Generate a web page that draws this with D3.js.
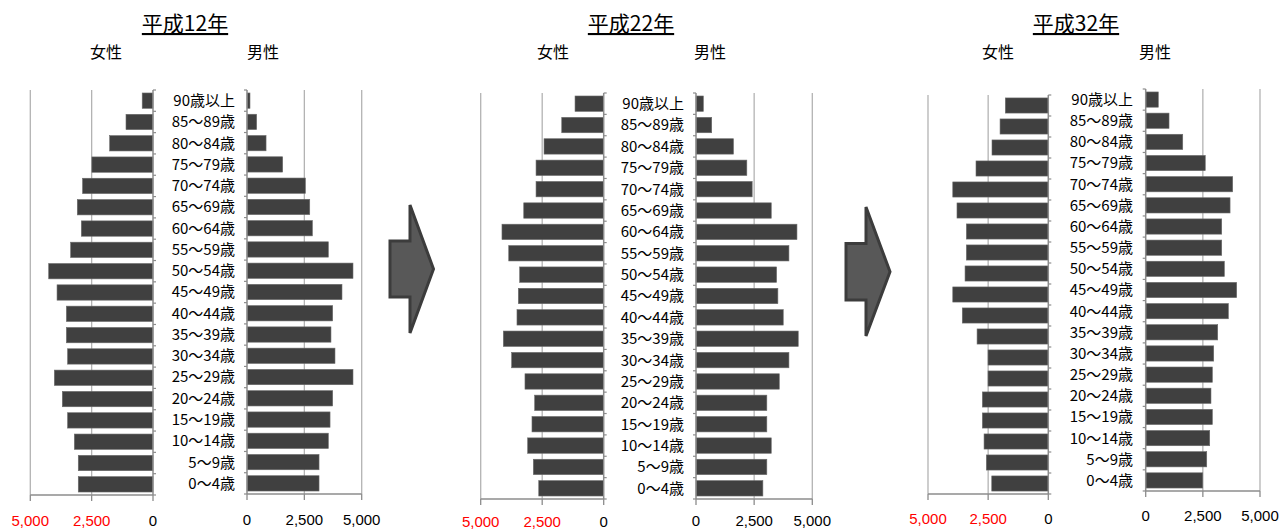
<!DOCTYPE html>
<html><head><meta charset="utf-8">
<script src="https://cdn.jsdelivr.net/npm/d3@7/dist/d3.min.js"></script>
<style>
html,body{margin:0;padding:0;background:#fff;}
svg{display:block;}
text{font-family:"Noto Sans CJK JP","Noto Sans",sans-serif;}
</style></head>
<body>
<script>
// ---- data ----
const ageGroups = ["90歳以上","85〜89歳","80〜84歳","75〜79歳","70〜74歳","65〜69歳","60〜64歳","55〜59歳","50〜54歳","45〜49歳","40〜44歳","35〜39歳","30〜34歳","25〜29歳","20〜24歳","15〜19歳","10〜14歳","5〜9歳","0〜4歳"];
const years = ["平成12年","平成22年","平成32年"];
const femaleH12 = [440,1100,1765,2490,2870,3085,2920,3355,4250,3910,3530,3530,3480,4020,3695,3480,3205,3045,3045];
const maleH12   = [130,420,830,1555,2545,2735,2850,3545,4620,4140,3735,3660,3835,4620,3735,3620,3545,3140,3140];
const femaleH22 = [1165,1705,2425,2750,2750,3250,4135,3860,3415,3470,3525,4080,3740,3200,2805,2915,3090,2860,2640];
const maleH22   = [315,675,1610,2185,2415,3235,4340,3995,3465,3520,3750,4395,3995,3580,3045,3045,3235,3045,2875];
const femaleH32 = [1785,2005,2340,3005,3970,3795,3405,3405,3460,3970,3575,2960,2505,2505,2740,2740,2670,2575,2350];
const maleH32   = [550,1020,1620,2605,3805,3690,3325,3325,3440,3980,3615,3150,2975,2915,2855,2915,2800,2670,2495];
const tickValues = [0,2500,5000];
const tickLabels = ["0","2,500","5,000"];
const femaleLabel = "女性", maleLabel = "男性";

const seriesByYear = [[femaleH12,maleH12],[femaleH22,maleH22],[femaleH32,maleH32]];

// ---- layout ----
const layouts = [
  {title:[185,31], fLab:[106,52], mLab:[263,52], catX:235,
   f:{x0:153,x1:30.3,y0:90,y1:495,tickY:526}, m:{x0:247,x1:361.7,y0:90,y1:494,tickY:525}},
  {title:[631,31], fLab:[553,52], mLab:[710,52], catX:684,
   f:{x0:603.7,x1:480.7,y0:93,y1:499,tickY:527}, m:{x0:696,x1:812.3,y0:93,y1:499,tickY:526}},
  {title:[1076,31], fLab:[998,52], mLab:[1155,52], catX:1133,
   f:{x0:1048.3,x1:928,y0:95,y1:494,tickY:524}, m:{x0:1145.7,x1:1260,y0:89,y1:491,tickY:521}}
];
const arrows = [
  {bx:390, bt:241, bb:297, hx:410, ht:205, hb:333, tip:433.5},
  {bx:846, bt:243.5, bb:300, hx:866, ht:207, hb:336, tip:890}
];

const W=1285,H=529;
const svg = d3.select("body").append("svg").attr("width",W).attr("height",H);

const barFill="#404040", gridCol="#b3b3b3", axisCol="#8c8c8c";

function half(g, cfg, values, female){
  const x = d3.scaleLinear().domain([0,5000]).range([cfg.x0,cfg.x1]);
  const y = d3.scaleBand().domain(ageGroups).range([cfg.y0,cfg.y1]).paddingInner(0.28).paddingOuter(0.14);
  // gridlines
  g.selectAll(null).data(tickValues.filter(v=>v>0)).join("line")
    .attr("x1",d=>x(d)).attr("x2",d=>x(d)).attr("y1",cfg.y0).attr("y2",cfg.y1)
    .attr("stroke",gridCol).attr("stroke-width",1.3);
  // bars
  g.selectAll(null).data(ageGroups).join("rect")
    .attr("x",(d,i)=>Math.min(x(0),x(values[i])))
    .attr("width",(d,i)=>Math.abs(x(values[i])-x(0)))
    .attr("y",d=>y(d)).attr("height",y.bandwidth())
    .attr("fill",barFill).attr("stroke","#6a6a6a").attr("stroke-width",0.6);
  // category axis line with boundary ticks
  const step = (cfg.y1-cfg.y0)/ageGroups.length;
  g.append("line").attr("x1",x(0)).attr("x2",x(0)).attr("y1",cfg.y0).attr("y2",cfg.y1)
    .attr("stroke",axisCol).attr("stroke-width",1.5);
  const dir = female?1:-1;
  g.selectAll(null).data(d3.range(ageGroups.length+1)).join("line")
    .attr("x1",x(0)).attr("x2",x(0)+dir*3)
    .attr("y1",i=>cfg.y0+i*step).attr("y2",i=>cfg.y0+i*step)
    .attr("stroke",axisCol).attr("stroke-width",1.2);
  // value axis
  g.append("line").attr("x1",x(0)).attr("x2",x(5000)).attr("y1",cfg.y1).attr("y2",cfg.y1)
    .attr("stroke",axisCol).attr("stroke-width",1.5);
  g.selectAll(null).data(tickValues).join("line")
    .attr("x1",d=>x(d)).attr("x2",d=>x(d)).attr("y1",cfg.y1).attr("y2",cfg.y1+6)
    .attr("stroke",axisCol).attr("stroke-width",1.3);
  g.selectAll(null).data(tickValues).join("text")
    .attr("x",d=>x(d)).attr("y",cfg.tickY)
    .attr("text-anchor","middle").attr("font-size",15)
    .style("font-family","'Liberation Sans',Arial,sans-serif")
    .attr("fill",d=>(female && d>0)?"#ff0000":"#000")
    .text((d,i)=>tickLabels[i]);
  return y;
}

layouts.forEach((L,pi)=>{
  const g = svg.append("g");
  const [fv,mv] = seriesByYear[pi];
  half(g,L.f,fv,true);
  const ym = half(g,L.m,mv,false);
  // category labels
  g.selectAll(null).data(ageGroups).join("text")
    .attr("x",L.catX).attr("y",d=>ym(d)+ym.bandwidth()/2).attr("dy","0.36em")
    .attr("text-anchor","end").attr("font-size",15).attr("fill","#000").text(d=>d);
  // title
  g.append("text").attr("x",L.title[0]).attr("y",L.title[1])
    .attr("text-anchor","middle").attr("font-size",21).attr("fill","#000")
    .attr("text-decoration","underline").text(years[pi]);
  g.append("text").attr("x",L.fLab[0]).attr("y",L.fLab[1]).attr("dy","0.36em")
    .attr("text-anchor","middle").attr("font-size",16).text(femaleLabel);
  g.append("text").attr("x",L.mLab[0]).attr("y",L.mLab[1]).attr("dy","0.36em")
    .attr("text-anchor","middle").attr("font-size",16).text(maleLabel);
});

arrows.forEach(a=>{
  const mid=(a.bt+a.bb)/2;
  const p = d3.path();
  p.moveTo(a.bx,a.bt); p.lineTo(a.hx,a.bt); p.lineTo(a.hx,a.ht); p.lineTo(a.tip,mid);
  p.lineTo(a.hx,a.hb); p.lineTo(a.hx,a.bb); p.lineTo(a.bx,a.bb); p.closePath();
  svg.append("path").attr("d",p.toString()).attr("fill","#585858")
    .attr("stroke","#3c3c3c").attr("stroke-width",3).attr("stroke-linejoin","miter");
});
</script>
</body></html>
